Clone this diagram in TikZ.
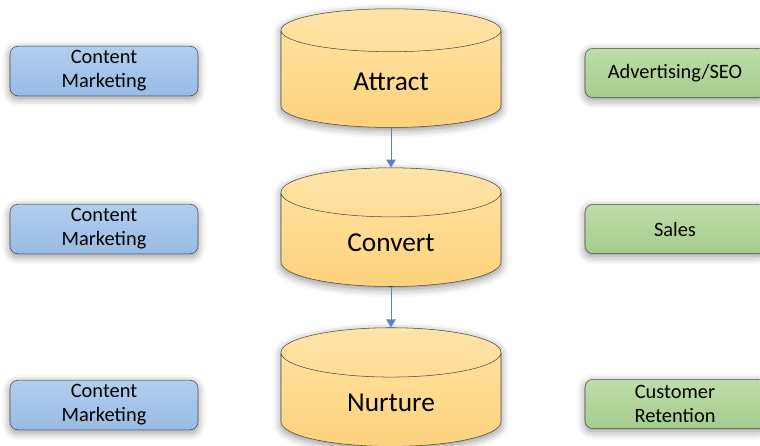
\documentclass[tikz,border=0pt]{standalone}
\usepackage{fontspec}
\setmainfont{Carlito}
\usetikzlibrary{arrows.meta,shapes.geometric,shadows.blur}

\definecolor{stageTop}{HTML}{FFE4A8}
\definecolor{stageBot}{HTML}{FFD27C}
\definecolor{blueTop}{HTML}{B2CEEE}
\definecolor{blueBot}{HTML}{98BBE5}
\definecolor{greenTop}{HTML}{BEDDAA}
\definecolor{greenBot}{HTML}{A4CD8C}
\definecolor{edgegray}{HTML}{4A4A4A}
\definecolor{flowblue}{HTML}{5B80C6}

\begin{document}
\begin{tikzpicture}[x=0.75pt,y=-0.75pt,
  softshadow/.style={blur shadow={shadow xshift=0pt,shadow yshift=-2pt,
    shadow blur radius=6pt,shadow opacity=45}},
  stage/.style={cylinder,shape border rotate=90,aspect=0.51,draw=edgegray,
    top color=stageTop,bottom color=stageBot,minimum width=165pt,
    minimum height=89pt,font=\fontsize{20.5}{23}\selectfont,softshadow},
  tactic/.style={rectangle,rounded corners=6pt,draw=edgegray,align=center,
    font=\fontsize{15.3}{18}\selectfont,minimum height=37pt,softshadow},
  bluebox/.style={tactic,top color=blueTop,bottom color=blueBot,minimum width=141pt},
  greenbox/.style={tactic,top color=greenTop,bottom color=greenBot,minimum width=135pt},
  flow/.style={-{Triangle[length=6pt,width=7pt]},draw=flowblue,fill=flowblue,line width=0.6pt}]

  \useasboundingbox (0,0) rectangle (760,446);

  % funnel stages
  \node[stage] (attract) at (391,82) {Attract};
  \node[stage] (convert) at (391,243) {Convert};
  \node[stage] (nurture) at (391,403) {Nurture};

  \draw[flow] (attract.bottom) -- (convert.top);
  \draw[flow] (convert.bottom) -- (nurture.top);

  % marketing side
  \foreach \i/\y in {1/71,2/229,3/405}
    \node[bluebox] (content\i) at (104,\y) {Content\\Marketing};

  % sales side
  \node[greenbox] (advert) at (675,73) {Advertising/SEO};
  \node[greenbox] (sales) at (675,229) {Sales};
  \node[greenbox] (retain) at (675,404) {Customer\\Retention};
\end{tikzpicture}
\end{document}
